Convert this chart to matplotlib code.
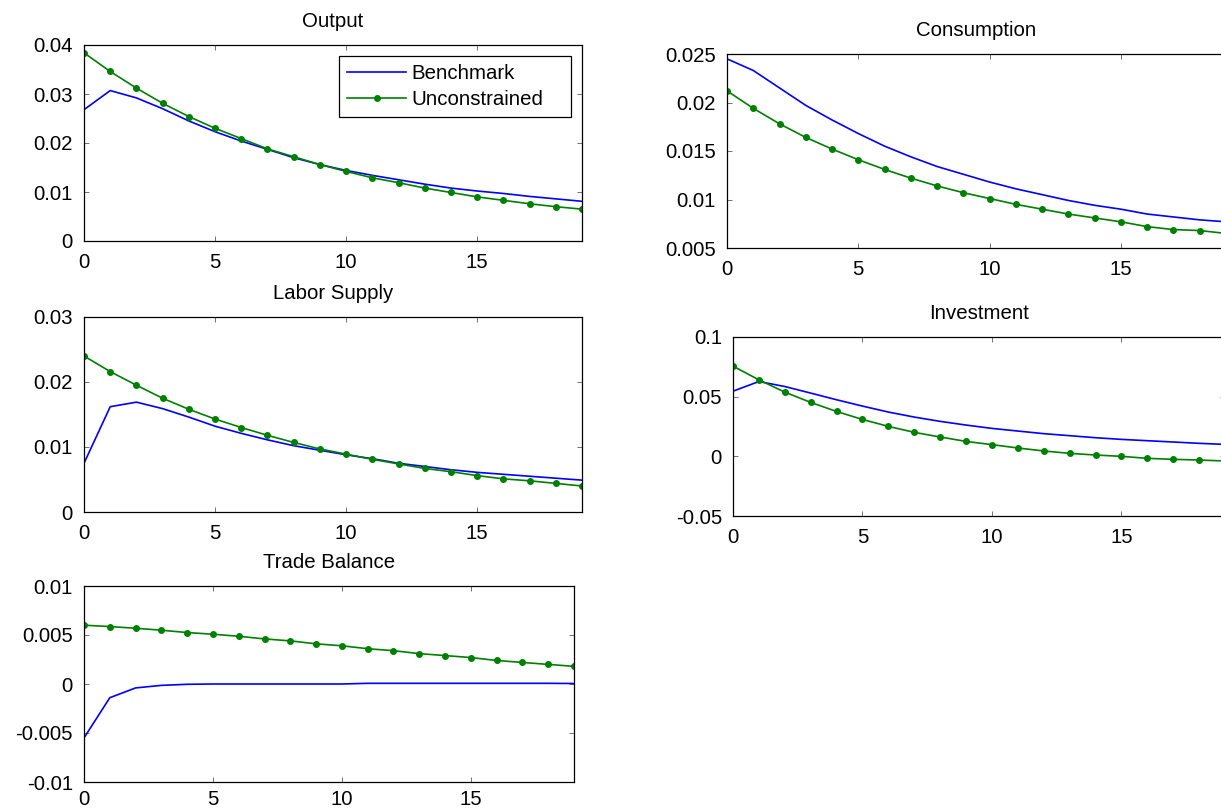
import matplotlib

matplotlib.use("Agg")
import matplotlib.pyplot as plt

plt.rcParams["font.family"] = ["Liberation Sans", "DejaVu Sans"]
plt.rcParams["font.size"] = 14.7

periods = list(range(20))

output_bench = [0.0268, 0.0307, 0.0292, 0.0270, 0.0245, 0.0223, 0.0204, 0.0187, 0.0170, 0.0156,
                0.0144, 0.0134, 0.0125, 0.0116, 0.0108, 0.0102, 0.0097, 0.0091, 0.0086, 0.0081]
output_unc = [0.0384, 0.0346, 0.0312, 0.0281, 0.0254, 0.0230, 0.0209, 0.0188, 0.0172, 0.0156,
              0.0142, 0.0129, 0.0119, 0.0108, 0.0099, 0.0090, 0.0083, 0.0076, 0.0070, 0.0065]

cons_bench = [0.0245, 0.0233, 0.0215, 0.0197, 0.0182, 0.0168, 0.0155, 0.0144, 0.0134, 0.0126,
              0.0118, 0.0111, 0.0105, 0.0099, 0.0094, 0.0090, 0.0085, 0.0082, 0.0079, 0.0077]
cons_unc = [0.0212, 0.0194, 0.0178, 0.0164, 0.0152, 0.0141, 0.0131, 0.0122, 0.0114, 0.0107,
            0.0101, 0.0095, 0.0090, 0.0085, 0.0081, 0.0077, 0.0072, 0.0069, 0.0068, 0.0065]

labor_bench = [0.0075, 0.0162, 0.0169, 0.0159, 0.0146, 0.0132, 0.0121, 0.0111, 0.0102, 0.0095,
               0.0088, 0.0082, 0.0075, 0.0070, 0.0065, 0.0061, 0.0058, 0.0055, 0.0052, 0.0049]
labor_unc = [0.0240, 0.0216, 0.0195, 0.0175, 0.0158, 0.0143, 0.0130, 0.0118, 0.0107, 0.0097,
             0.0089, 0.0081, 0.0074, 0.0067, 0.0062, 0.0056, 0.0051, 0.0048, 0.0044, 0.0040]

inv_bench = [0.0546, 0.0627, 0.0585, 0.0530, 0.0474, 0.0421, 0.0371, 0.0329, 0.0293, 0.0262,
             0.0234, 0.0212, 0.0190, 0.0173, 0.0156, 0.0142, 0.0131, 0.0120, 0.0109, 0.0100]
inv_unc = [0.0756, 0.0641, 0.0538, 0.0452, 0.0376, 0.0309, 0.0251, 0.0201, 0.0162, 0.0125,
           0.0098, 0.0070, 0.0045, 0.0025, 0.0011, 0.0000, -0.0017, -0.0025, -0.0031, -0.0039]

tb_bench = [-0.0055, -0.0014, -0.0004, -0.00014, -0.00003, 0.0, 0.0, 0.0, 0.0, 0.0,
            0.0, 0.00007, 0.00007, 0.00007, 0.00007, 0.00007, 0.00007, 0.00007, 0.00007, 0.00005]
tb_unc = [0.0060, 0.00586, 0.00569, 0.00549, 0.00525, 0.00508, 0.00487, 0.0046, 0.0044, 0.0041,
          0.0039, 0.0036, 0.0034, 0.0031, 0.0029, 0.0027, 0.0024, 0.0022, 0.0020, 0.0018]

W, H = 1221, 811


def pixel_axes(fig, left, right, top, bottom):
    return fig.add_axes([left / W, 1 - bottom / H, (right - left) / W, (bottom - top) / H])


def style_axes(ax, title, yticks, ylabels, xpad=8.5):
    ax.set_xlim(0, 19)
    ax.set_ylim(yticks[0], yticks[-1])
    ax.set_xticks([0, 5, 10, 15])
    ax.set_yticks(yticks)
    ax.set_yticklabels(ylabels)
    ax.tick_params(direction="in", top=True, right=True, length=3.5, width=0.6,
                   color="0.35", labelsize=14.7)
    ax.tick_params(axis="x", pad=xpad)
    ax.tick_params(axis="y", pad=8)
    for spine in ax.spines.values():
        spine.set_linewidth(0.9)
    ax.set_title(title, fontsize=14.7, pad=13)


def draw(ax, bench, unc):
    ax.plot(periods, bench, color="blue", lw=1.2, label="Benchmark")
    ax.plot(periods, unc, color="green", lw=1.2, marker="o", ms=4,
            label="Unconstrained")


fig = plt.figure(figsize=(W / 100, H / 100), dpi=100)

ax_out = pixel_axes(fig, 84, 582, 45, 241)
draw(ax_out, output_bench, output_unc)
style_axes(ax_out, "Output", [0, 0.01, 0.02, 0.03, 0.04], ["0", "0.01", "0.02", "0.03", "0.04"])
# MATLAB-style legend box: fixed width, entries left aligned
leg = ax_out.legend(loc="upper left", bbox_to_anchor=(0.512, 0.628, 0.466, 0.316),
                    mode="expand", borderaxespad=0, fancybox=False, edgecolor="black",
                    framealpha=1, handlelength=2.9, fontsize=14.7, borderpad=0.4,
                    labelspacing=0.35, handletextpad=0.25)
leg.get_frame().set_linewidth(0.9)

ax_lab = pixel_axes(fig, 84, 582, 317, 512)
draw(ax_lab, labor_bench, labor_unc)
style_axes(ax_lab, "Labor Supply", [0, 0.01, 0.02, 0.03], ["0", "0.01", "0.02", "0.03"])

ax_tb = pixel_axes(fig, 84, 574, 586, 782)
draw(ax_tb, tb_bench, tb_unc)
style_axes(ax_tb, "Trade Balance", [-0.01, -0.005, 0, 0.005, 0.01],
           ["-0.01", "-0.005", "0", "0.005", "0.01"], xpad=5.5)

ax_con = pixel_axes(fig, 727, 1226, 54, 248)
draw(ax_con, cons_bench, cons_unc)
style_axes(ax_con, "Consumption", [0.005, 0.01, 0.015, 0.02, 0.025],
           ["0.005", "0.01", "0.015", "0.02", "0.025"])

ax_inv = pixel_axes(fig, 733, 1225, 337, 516)
draw(ax_inv, inv_bench, inv_unc)
style_axes(ax_inv, "Investment", [-0.05, 0, 0.05, 0.1], ["-0.05", "0", "0.05", "0.1"])

fig.savefig("out.png", dpi=100)
